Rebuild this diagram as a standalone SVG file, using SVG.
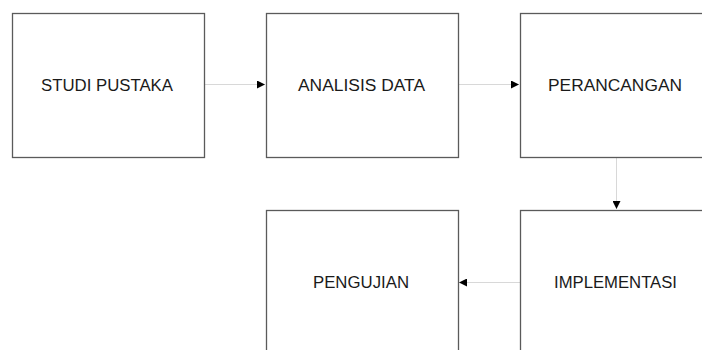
<svg xmlns="http://www.w3.org/2000/svg" width="702" height="350" viewBox="0 0 702 350">
  <defs>
    <marker id="head" viewBox="0 0 10 10" refX="10" refY="5" markerWidth="9" markerHeight="8" markerUnits="userSpaceOnUse" orient="auto">
      <path d="M0,0 L10,5 L0,10 Z" fill="#000"/>
    </marker>
  </defs>
  <style>
    .box { fill: #fff; stroke: #5a5a5a; stroke-width: 1.3; }
    .lbl { font-family: "Liberation Sans", Arial, sans-serif; font-size: 16px; fill: #1a1a1a; text-anchor: middle; }
    .link { fill: none; stroke: #d8d8d8; stroke-width: 1; marker-end: url(#head); }
  </style>
  <rect width="702" height="350" fill="#fff"/>

  <g id="connectors">
    <line class="link" x1="204" y1="84.5" x2="265" y2="84.5"/>
    <line class="link" x1="459" y1="84.5" x2="519" y2="84.5"/>
    <line class="link" x1="616.5" y1="157" x2="616.5" y2="209"/>
    <line class="link" x1="520" y1="282.5" x2="459" y2="282.5"/>
  </g>

  <g id="studi-pustaka">
    <rect class="box" x="12.5" y="13.5" width="192" height="144"/>
    <text class="lbl" x="107" y="90.5" textLength="132" lengthAdjust="spacingAndGlyphs">STUDI PUSTAKA</text>
  </g>

  <g id="analisis-data">
    <rect class="box" x="266.5" y="13.5" width="192" height="144"/>
    <text class="lbl" x="361.5" y="90.5" textLength="127" lengthAdjust="spacingAndGlyphs">ANALISIS DATA</text>
  </g>

  <g id="perancangan">
    <rect class="box" x="520.5" y="13.5" width="200" height="144"/>
    <text class="lbl" x="615" y="90.5" textLength="134" lengthAdjust="spacingAndGlyphs">PERANCANGAN</text>
  </g>

  <g id="implementasi">
    <rect class="box" x="520.5" y="210.5" width="200" height="160"/>
    <text class="lbl" x="615.5" y="288" textLength="123" lengthAdjust="spacingAndGlyphs">IMPLEMENTASI</text>
  </g>

  <g id="pengujian">
    <rect class="box" x="266.5" y="210.5" width="192" height="160"/>
    <text class="lbl" x="361" y="288" textLength="96" lengthAdjust="spacingAndGlyphs">PENGUJIAN</text>
  </g>
</svg>
